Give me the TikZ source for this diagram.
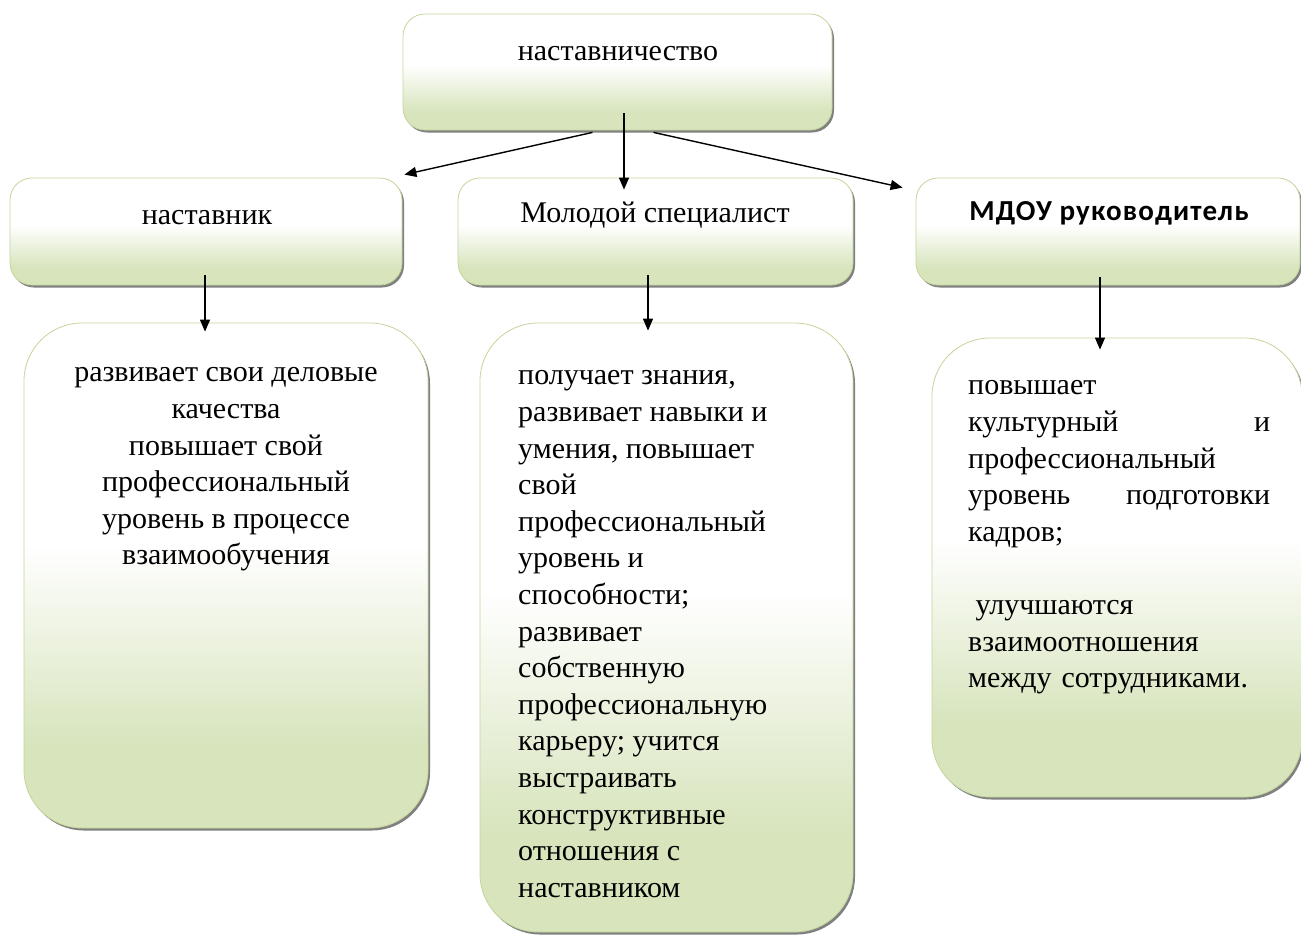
\documentclass[tikz,border=0pt]{standalone}
\usepackage{fontspec}
\setmainfont{Liberation Serif}
\newfontfamily\carlito[LetterSpace=4]{Carlito}
\usetikzlibrary{arrows.meta,shadows}
\definecolor{bordergreen}{RGB}{195,214,155}
\definecolor{fillgreen}{RGB}{215,228,188}
\pgfdeclareverticalshading{boxshade}{100bp}{color(0bp)=(fillgreen); color(33bp)=(fillgreen); color(53bp)=(white); color(100bp)=(white)}
\begin{document}
\begin{tikzpicture}[x=1pt,y=-1pt,
  box/.style={draw=bordergreen, line width=0.8pt, shading=boxshade, shading angle=0,
    drop shadow={shadow xshift=2pt, shadow yshift=-2.5pt, fill=black!50, opacity=1}, inner sep=0pt},
  smallbox/.style={box, rounded corners=22pt},
  bigbox/.style={box, rounded corners=58pt},
  txt/.style={inner sep=0pt, font=\fontsize{30pt}{36.6pt}\selectfont},
  arr/.style={-{Triangle[width=10pt,length=12pt]}, line width=1.4pt, black}
]
\useasboundingbox (0,0) rectangle (1301,935);
\fill[white] (0,0) rectangle (1301,935);
\clip (0,0) rectangle (1301,935);

\node[smallbox, minimum width=429pt, minimum height=116pt] (top) at (617.5,72) {};
\node[smallbox, minimum width=392pt, minimum height=107pt] (nast) at (206,231.5) {};
\node[smallbox, minimum width=395pt, minimum height=107pt] (mol) at (655.5,231.5) {};
\node[smallbox, minimum width=384pt, minimum height=107pt] (mdou) at (1108,231.5) {};
\node[bigbox, minimum width=404pt, minimum height=505pt] (b1) at (226,575.5) {};
\node[bigbox, minimum width=373pt, minimum height=609pt] (b2) at (666.5,627.5) {};
\node[bigbox, minimum width=370pt, minimum height=459pt] (b3) at (1117,567.5) {};

\node[txt, anchor=base] (ttop) at (618,60) {наставничество};
\node[txt, anchor=base] (tnast) at (207,224) {наставник};
\node[txt, anchor=base] (tmol) at (655,222) {Молодой специалист};
\node[txt, anchor=base, font=\carlito\bfseries\fontsize{29pt}{34pt}\selectfont] (tmdou) at (1109,220) {МДОУ руководитель};

\node[txt, anchor=north, align=center] (t1) at (226,356) {\strut развивает свои деловые\\ качества\\ повышает свой\\ профессиональный\\ уровень в процессе\\ взаимообучения};

\node[txt, anchor=north west, align=left] (t2) at (518,359) {\strut получает знания,\\ развивает навыки и\\ умения, повышает\\ свой\\ профессиональный\\ уровень и\\ способности;\\ развивает\\ собственную\\ профессиональную\\ карьеру; учится\\ выстраивать\\ конструктивные\\ отношения с\\ наставником};

\node[txt, anchor=north west, text width=302pt, align=left] (t3) at (968,369) {\strut повышает\\ культурный\hfill и\\ профессиональный\\ уровень\hfill подготовки\\ кадров;\\ \mbox{}\\ \hspace*{0.25em}улучшаются\\ взаимоотношения\\ между сотрудниками.};

\draw[arr] ([xshift=6.5pt,yshift=17pt]top.south) -- ([xshift=-31.5pt,yshift=-12pt]mol.north);
\draw[arr] ([xshift=-25pt,yshift=-2pt]top.south) -- ([xshift=2pt,yshift=3pt]nast.north east);
\draw[arr] ([xshift=36pt,yshift=-2pt]top.south) -- ([xshift=-13pt,yshift=-10pt]mdou.north west);
\draw[arr] ([xshift=-1pt,yshift=10pt]nast.south) -- ([xshift=-21pt,yshift=-9pt]b1.north);
\draw[arr] ([xshift=-7.5pt,yshift=10pt]mol.south) -- ([xshift=-18.5pt,yshift=-8pt]b2.north);
\draw[arr] ([xshift=-8pt,yshift=8pt]mdou.south) -- ([xshift=-17pt,yshift=-12pt]b3.north);
\end{tikzpicture}
\end{document}
